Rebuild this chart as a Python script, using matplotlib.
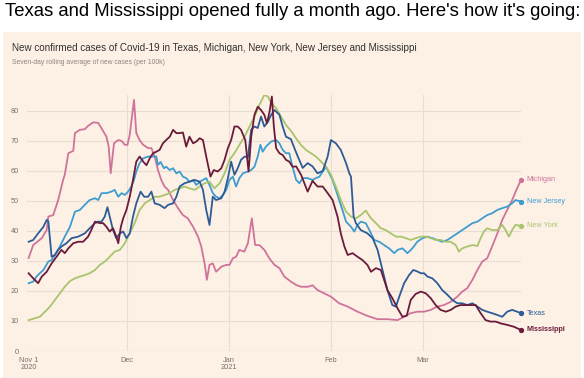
import matplotlib
matplotlib.use("Agg")
import matplotlib.pyplot as plt
from matplotlib.patches import Rectangle

#_________________________________________
# DATA  (day 0 = Nov 1 2020, values = 7-day avg new cases per 100k)
#_________________________________________
mi_days = [0, 1.4, 4.0, 5.5, 6.0, 7.5, 9.0, 10.5, 11.0, 12.1, 13.6, 14.1, 15.6, 17.1, 18.1, 19.7,
           21.2, 22.2, 23.7, 24.4, 25.0, 26.0, 27.3, 28.3, 29.3, 30.1, 30.8, 32.1, 32.8, 33.8,
           34.9, 36.4, 37.4, 38.4, 39.4, 40.4, 41.4, 42.5, 44.0, 45.5, 47.0, 48.5, 50.1, 51.6,
           52.6, 53.6, 54.3, 55.1, 56.1, 57.1, 58.7, 60.2, 61.2, 62.2, 63.2, 64.2, 65.7, 66.8,
           68.0, 69.0, 70.3, 71.8, 73.3, 74.9, 76.4, 77.9, 79.9, 81.5, 83.0, 85.0, 86.5, 88.0,
           90.1, 92.1, 94.6, 97.2, 100.2, 103.2, 106.3, 109.3, 112.4, 114.4, 116.4, 118.4,
           120.5, 122.5, 124.5, 126.5, 128.6, 130.6, 132.1, 133.6, 135.2, 136.7, 138.2, 139.7,
           141.2, 142.8, 144.3, 145.8, 147.3, 148.8, 150]
mi_vals = [31, 35.3, 37.6, 40.3, 44.8, 45.3, 50.3, 57, 58.7, 65.9, 66.7, 72.6, 73.7, 73.9, 75, 76.2,
           76, 74.2, 71.4, 68, 59.2, 69.2, 70.3, 70, 68.7, 68.7, 72, 83.7, 72.6, 70.3,
           68.7, 67.6, 67.6, 64.8, 60.3, 57, 54.8, 53.7, 50.3, 47.6, 45.3, 44.2, 41.4, 38.1,
           34.8, 29.2, 23.7, 28.7, 29.2, 26.4, 28.1, 28.7, 28.7, 30.9, 31.4, 33.7, 33.1, 35.9,
           44.2, 35.3, 35.3, 33.7, 30.9, 28.7, 27.6, 24.8, 23.1, 22, 21.4, 21.4, 21.9, 20.3,
           19.2, 18.1, 15.9, 14.8, 13.1, 11.7, 10.6, 10.6, 10.3, 11.4, 12.6, 13.1,
           13.1, 13.7, 14.8, 15.3, 16.4, 18.1, 19.8, 20.9, 23.7, 27, 29.8, 30.9,
           34.8, 39.2, 43.7, 47, 50.3, 54.2, 57]

tx_days = [0, 1.4, 2.9, 4.5, 5.5, 6.0, 7.0, 8.0, 9.0, 10.0, 11.5, 13.1, 15.1, 17.1, 18.6, 20.2,
           21.2, 22.2, 23.2, 24.0, 24.7, 25.7, 26.7, 27.8, 28.8, 29.8, 30.8, 31.8, 32.8, 34.1,
           35.2, 36.4, 37.4, 38.4, 39.9, 41.4, 42.5, 44.0, 45.0, 46.0, 47.5, 49.0, 50.6, 52.1,
           53.1, 54.1, 55.1, 56.1, 57.1, 58.7, 59.7, 60.7, 61.7, 62.7, 63.7, 64.7, 65.8, 66.8,
           67.8, 68.8, 69.8, 70.8, 71.8, 72.9, 73.9, 74.9, 76.4, 77.4, 78.4, 79.9, 81.0, 82.0,
           83.5, 85.0, 86.5, 88.0, 89.6, 91.1, 92.1, 93.6, 95.1, 96.7, 97.7, 98.2, 99.0, 99.7,
           101.2, 103.2, 104.8, 106.3, 107.8, 109.3, 110.8, 111.9, 112.9, 114.4, 115.9, 117.2,
           118.4, 119.5, 120.5, 121.5, 123.0, 124.5, 126.0, 127.6, 129.1, 130.6, 132.1, 133.6,
           135.2, 136.7, 138.2, 139.7, 141.2, 142.8, 144.3, 145.8, 147.3, 148.8, 150]
tx_vals = [36.4, 37, 39.2, 41.4, 43.7, 43.2, 31.4, 32, 33.7, 34.8, 35.9, 37.6, 38.1, 39.2, 40.9, 42.6,
           43.1, 43.1, 44.8, 47.9, 44.8, 40.3, 37.6, 39.2, 39.8, 37.6, 39.2, 44.8, 49.2, 53.1,
           51.4, 51.4, 53.1, 49.2, 48.7, 47.6, 48.7, 49.2, 51.4, 54.8, 55.9, 56.4, 57, 56.4,
           53.7, 47, 42, 51.4, 50.3, 50.9, 53.1, 57.6, 63.1, 58.7, 60.9, 63.7, 64.8, 64.5,
           73.7, 74.8, 74.3, 78.1, 74.8, 76.4, 78.7, 80.3, 78.7, 74.8, 71.4, 70.6, 67.5, 64.8,
           61, 62.6, 61.5, 59.2, 60, 64.8, 70.3, 69.2, 67, 62.6, 59.2, 58.1, 44.8, 42.6,
           40.3, 39.2, 37.6, 33.7, 27, 20.3, 15.3, 14.8, 18.1, 22.6, 25.3, 27,
           26.5, 25.9, 25.9, 24.8, 24.2, 22.6, 20.3, 18.7, 17, 15.9, 15.9, 15.3,
           15.9, 14.8, 13.7, 13.1, 12.6, 12, 11.4, 13.1, 13.7, 13.1, 12.6]

nj_days = [0, 1.4, 2.4, 3.4, 4.5, 6.0, 7.0, 8.0, 9.5, 11.0, 12.6, 14.1, 15.6, 17.1, 18.6, 20.2,
           21.2, 22.2, 23.7, 25.2, 26.2, 27.3, 28.3, 29.3, 30.3, 31.3, 32.1, 32.8, 33.8, 34.9,
           36.4, 37.9, 38.9, 39.4, 40.2, 41.2, 41.9, 43.0, 44.0, 45.0, 46.0, 47.0, 48.0, 49.0,
           50.1, 51.1, 52.1, 53.1, 54.1, 55.1, 56.1, 57.1, 58.2, 59.2, 60.2, 61.2, 62.2, 63.2,
           64.2, 65.3, 66.8, 67.8, 68.8, 69.8, 70.6, 71.3, 72.3, 73.9, 75.4, 76.4, 77.4, 78.4,
           79.4, 80.4, 81.5, 82.5, 83.5, 85.0, 86.5, 87.5, 88.6, 89.6, 90.6, 91.6, 92.6, 93.6,
           94.6, 95.6, 96.7, 98.2, 99.2, 100.2, 101.2, 102.7, 103.8, 105.3, 106.8, 108.3,
           109.8, 111.4, 112.4, 113.9, 115.4, 116.9, 118.4, 120.0, 121.5, 123.0, 124.5, 126.0,
           127.6, 129.1, 130.6, 132.1, 133.6, 135.2, 136.7, 138.2, 139.7, 141.2, 142.8, 144.3,
           145.8, 147.3, 148.3, 150]
nj_vals = [22.6, 23.1, 24.8, 25.9, 27, 29.8, 30.3, 32, 34.8, 38.1, 41.4, 46.4, 47, 48.7, 50.3, 50.9,
           50.3, 52.6, 52.6, 53.1, 53.7, 51.4, 52.6, 52, 53.1, 54.8, 57, 59.8, 62.6, 64.2,
           64.8, 64.8, 64.8, 62, 63, 60.9, 61.4, 60.3, 60.9, 59.2, 59.8, 58.1, 57.6, 56.4,
           57, 55.3, 56.4, 57, 57.6, 55.3, 52.6, 51.4, 50.9, 52, 53.7, 57, 58.1, 54.8,
           57.6, 59.2, 59.8, 60.3, 61.4, 64.8, 68.7, 66.4, 68.1, 69.8, 70.3, 69.2, 67, 65.9,
           65.9, 61.4, 57, 55.9, 57.6, 57.6, 57, 57.6, 58.1, 59.8, 61.4, 59.2, 57, 53.7,
           50.3, 47, 43.1, 41.4, 39.8, 42, 43.1, 42.6, 40.3, 37, 36.4, 35.3,
           34.2, 32.6, 33.7, 34.2, 32.6, 34.2, 36.4, 37.6, 38.1, 37.6, 37, 36.4,
           37, 38.1, 39.2, 40.3, 41.4, 42.6, 43.1, 44.2, 45.3, 45.9, 47, 47.6,
           48.1, 49.2, 50.3, 49.8]

ny_days = [0, 1.9, 3.4, 5.0, 6.5, 8.0, 9.5, 11.0, 12.6, 14.1, 15.6, 17.1, 18.6, 20.2, 21.7, 23.2,
           24.7, 26.2, 27.8, 29.3, 30.8, 32.3, 33.8, 35.4, 36.9, 38.4, 39.9, 41.4, 43.0, 44.5,
           46.0, 47.5, 49.0, 50.6, 52.1, 53.6, 55.1, 56.6, 58.2, 59.7, 61.2, 62.7, 64.2, 65.8,
           67.3, 68.8, 70.3, 71.8, 72.9, 73.9, 75.4, 76.9, 78.4, 79.9, 81.5, 83.0, 84.5, 86.0,
           87.5, 89.1, 90.6, 92.1, 93.6, 95.1, 96.7, 98.2, 99.7, 101.2, 102.7, 104.3, 105.8,
           107.3, 108.8, 110.3, 111.9, 113.4, 114.9, 116.4, 117.9, 119.5, 121.0, 122.5, 124.0,
           125.5, 127.1, 128.6, 130.1, 131.1, 132.1, 133.6, 135.2, 136.7, 137.7, 138.7, 139.7,
           141.2, 142.8, 144.3, 145.3, 146.3, 147.3, 148.3, 150]
ny_vals = [10.3, 10.9, 11.4, 13.1, 14.8, 17, 19.2, 21.4, 23.3, 24.2, 24.8, 25.3, 25.9, 27, 28.7, 29.8,
           31.4, 33.1, 33.7, 35.9, 39.2, 42.6, 47, 49.2, 50.3, 51.4, 51.4, 52, 52.6, 53.7,
           54.2, 54.8, 54.2, 53.7, 54.8, 55.9, 56.4, 54.2, 55.9, 59.2, 63.7, 65.9, 68.7, 71.4,
           74.8, 78.1, 82, 85.3, 84.8, 82.6, 80.9, 78.1, 75.3, 73.4, 70.8, 68.6, 67, 65.9,
           64.8, 63.1, 61.4, 58.7, 54.8, 50.3, 46.4, 44.8, 44.2, 45.3, 46.8, 44.2, 42.6,
           40.9, 40.3, 39.2, 38.1, 38.1, 37.6, 37, 37.6, 38.1, 38.1, 37.6, 37,
           37, 36.4, 36.4, 35.3, 33.1, 34.2, 34.8, 35.3, 35, 37.6, 39.8, 40.9,
           40.3, 40.3, 42, 40.3, 38.1, 40.3, 42, 41.7]

ms_days = [0, 1.4, 2.9, 4.0, 5.5, 7.0, 8.5, 10.0, 11.0, 12.1, 13.6, 15.1, 16.6, 18.1, 19.1, 20.2,
           21.7, 22.7, 23.7, 24.7, 25.7, 26.7, 27.3, 28.1, 28.8, 29.8, 30.8, 31.8, 32.8, 33.8,
           34.9, 35.9, 36.9, 37.9, 38.9, 39.9, 40.9, 41.9, 43.0, 44.0, 45.0, 46.0, 47.0, 48.0,
           49.0, 50.1, 51.1, 52.1, 53.1, 54.1, 55.4, 56.4, 57.6, 58.7, 59.7, 60.7, 61.7, 62.7,
           63.7, 64.7, 66.0, 67.0, 67.8, 68.8, 69.8, 70.8, 71.8, 72.6, 73.4, 74.1, 74.7, 75.4,
           76.4, 77.4, 78.4, 79.4, 80.4, 81.5, 83.0, 85.0, 86.5, 88.0, 89.6, 91.1, 92.6, 94.1,
           95.1, 96.2, 97.2, 98.7, 100.2, 101.7, 103.2, 104.3, 105.8, 107.3, 108.3, 109.3,
           110.8, 112.4, 113.9, 115.2, 116.4, 117.9, 119.5, 121.0, 122.5, 124.0, 125.5, 127.1,
           128.6, 130.1, 131.6, 133.1, 134.7, 136.2, 137.7, 139.2, 140.7, 142.3, 143.8, 145.8,
           147.8, 150]
ms_vals = [25.9, 24.2, 22.6, 24.8, 26.4, 29.2, 31.4, 33.7, 32.6, 34.2, 35.9, 36.4, 36.4, 38.1, 40.3, 43.1,
           42.6, 42.6, 41.4, 39.8, 40.9, 38.1, 35.9, 41.4, 44.2, 47, 51.4, 57, 63.1, 64.8,
           63.1, 61.9, 64.2, 65.9, 66.4, 67, 69.2, 70.3, 71.4, 73.7, 72.6, 72.6, 72.8, 68.1,
           71.4, 69.2, 69.8, 70.9, 70.3, 64.8, 58.1, 60.3, 59.8, 60.9, 63.7, 67.6, 70.3, 74.8,
           74.8, 73.7, 70.3, 59.8, 71.4, 78.7, 81.4, 80.3, 78.7, 75.9, 79.8, 84.8, 74.8, 67.6,
           65.9, 65.3, 63.7, 63.1, 61.4, 61.5, 58.7, 53.1, 56.7, 54.8, 54.8, 52.6, 50.3, 44.8,
           39.2, 34.8, 32, 32.6, 31.4, 30.3, 28.7, 26.4, 27.6, 27, 23.7, 20.3,
           17.6, 14.2, 11.4, 11.8, 17, 19, 19.8, 19.2, 17.6, 15.3, 13.7, 13.1,
           13.7, 14.8, 15.3, 15.3, 15.3, 15.3, 12.6, 10.3, 9.8, 9.8, 9.2, 8.7,
           8.1, 7]

month_ticks = [0, 30, 61, 92, 120]
month_labels = ["Nov 1\n2020", "Dec", "Jan\n2021", "Feb", "Mar"]
y_ticks = [0, 10, 20, 30, 40, 50, 60, 70, 80]

series = [
    ("Michigan", mi_days, mi_vals, "#d0739a"),
    ("New Jersey", nj_days, nj_vals, "#3d9dd0"),
    ("New York", ny_days, ny_vals, "#a9c46c"),
    ("Texas", tx_days, tx_vals, "#2c5b96"),
    ("Mississippi", ms_days, ms_vals, "#6b1b3a"),
]

#_________________________________________
# PLOT
#_________________________________________
W, H = 584, 378
fig = plt.figure(figsize=(W / 100, H / 100), dpi=100)
fig.patch.set_facecolor("white")

# beige FT panel
fig.patches.append(Rectangle((3 / W, 0), 578 / W, 346 / H, transform=fig.transFigure,
                             facecolor="#fdf1e6", edgecolor="none", zorder=-5))

fig.text(5 / W, 1 - 12 / H, "Texas and Mississippi opened fully a month ago. Here's how it's going:",
         family="Liberation Sans", fontsize=13.3, color="black", va="center", ha="left")
fig.text(12 / W, 1 - 48 / H,
         "New confirmed cases of Covid-19 in Texas, Michigan, New York, New Jersey and Mississippi",
         family="Liberation Sans", fontsize=7.1, color="#33302e", va="center", ha="left")
fig.text(12 / W, 1 - 63 / H, "Seven-day rolling average of new cases (per 100k)",
         family="Liberation Sans", fontsize=4.9, color="#8f8680", va="center", ha="left")

ax = fig.add_axes([27 / W, 27 / H, 494 / W, 256 / H])
ax.set_facecolor("none")
ax.set_xlim(-0.5, 150)
ax.set_ylim(0, 85.3)

for s in ax.spines.values():
    s.set_visible(False)

grid_c = "#e8ddd3"
for t in y_ticks[1:]:
    ax.axhline(t, color=grid_c, lw=0.8, zorder=0)
ax.axhline(0, color="#b9aea5", lw=0.8, zorder=0)
for t in month_ticks[1:]:
    ax.axvline(t, color=grid_c, lw=0.8, zorder=0)

ax.set_yticks(y_ticks)
ax.set_yticklabels([str(v) for v in y_ticks])
ax.set_xticks(month_ticks)
ax.set_xticklabels(month_labels, linespacing=1.1)
ax.tick_params(axis="both", length=0, labelsize=5.3, labelcolor="#7a716b")
ax.tick_params(axis="y", pad=6)
ax.tick_params(axis="x", pad=4)
for lab in ax.get_xticklabels() + ax.get_yticklabels():
    lab.set_family("Liberation Sans")

for name, d, v, c in series:
    ax.plot(d, v, color=c, lw=1.3, zorder=3, solid_joinstyle="round")
    ax.plot(d[-1], v[-1], "o", color=c, ms=2.8, zorder=4, clip_on=False)
    ax.annotate(name, (d[-1], v[-1]), xytext=(4, 0), textcoords="offset points",
                va="center", ha="left", fontsize=5.2, color=c, family="Liberation Sans",
                fontweight="bold" if name == "Mississippi" else "normal",
                annotation_clip=False)

plt.savefig("out.png", dpi=100)
